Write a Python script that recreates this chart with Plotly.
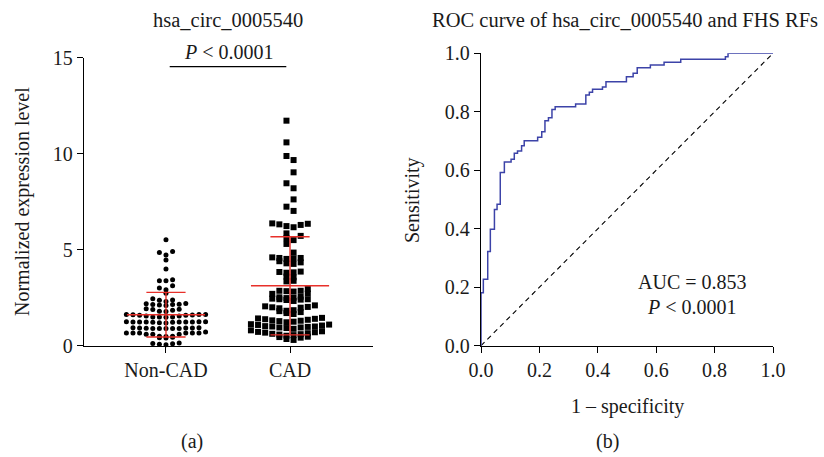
import numpy as np
import plotly.graph_objects as go

# ---------------- data ----------------
categories = ["Non-CAD", "CAD"]

non_cad = [
    5.52,
    4.72, 4.86, 4.90,
    4.46,
    4.00,
    3.38, 3.38, 3.44,
    3.12, 3.00, 2.92,
    2.73,
    2.45, 2.37, 2.38, 2.30,
    2.15, 2.12, 2.18, 2.10, 2.16, 2.14, 2.20,
    1.90, 1.88, 1.92, 1.85, 1.78, 1.80,
    1.58, 1.48, 1.58, 1.62, 1.50, 1.49, 1.62, 1.60, 1.61, 1.50, 1.55, 1.55, 1.62,
    1.23, 1.25, 1.23, 1.22, 1.18, 1.23, 1.25, 1.23, 1.22, 1.23, 1.20, 1.25, 1.23,
    0.92, 0.90, 0.93, 0.89, 0.92, 0.91, 0.90, 0.92, 0.89, 0.93, 0.90,
    0.66, 0.49, 0.48, 0.60, 0.66, 0.66, 0.71, 0.66, 0.66, 0.60, 0.66, 0.49, 0.60,
    0.40, 0.42, 0.44,
    0.05, 0.12, 0.08, 0.14, 0.10,
]

cad = [
    11.72, 10.59, 9.88, 9.67, 9.03, 8.46, 8.20, 7.62, 7.24, 7.02,
    6.32, 6.37, 6.23, 6.17, 6.29, 6.35,
    5.85, 5.72, 5.60, 5.50, 5.30,
    4.85, 4.57, 4.60, 4.55, 4.57, 4.52, 4.40, 4.34, 4.29, 4.26,
    3.84, 3.82, 3.86, 3.80, 3.56, 3.60, 3.35, 3.38,
    2.95, 2.86, 2.84, 2.86, 2.82, 2.70, 2.72,
    2.55, 2.50, 2.52, 2.48, 2.42, 2.45, 2.38, 2.42, 2.33, 2.40,
    2.10, 2.05, 2.00, 2.02, 1.98, 1.95, 1.85, 1.80, 1.82, 1.70, 1.65, 1.75,
    1.45, 1.40, 1.38, 1.42, 1.35, 1.30, 1.25, 1.28, 1.22, 1.32,
    1.10, 1.00, 1.05, 0.95, 1.00, 0.92, 1.08, 1.12, 0.98, 1.02, 0.88, 0.95,
    0.80, 0.70, 0.55, 0.62, 0.60, 0.52, 0.75, 0.65, 0.58, 0.68, 0.72,
    0.30, 0.35, 0.45, 0.47, 0.42,
]

y_ticks_a = [0, 5, 10, 15]

# ROC step vertices (false positive rate, true positive rate)
roc_fpr = [0.0, 0.0, 0.008, 0.023, 0.032, 0.046, 0.055, 0.066, 0.080, 0.103, 0.114,
           0.125, 0.139, 0.148, 0.194, 0.208, 0.219, 0.231, 0.243, 0.254, 0.324,
           0.359, 0.371, 0.382, 0.416, 0.428, 0.498, 0.521, 0.535, 0.580, 0.627,
           0.684, 0.837, 0.846, 1.0]
roc_tpr = [0.0, 0.181, 0.227, 0.322, 0.398, 0.466, 0.484, 0.592, 0.628, 0.638, 0.658,
           0.666, 0.684, 0.701, 0.713, 0.732, 0.769, 0.780, 0.808, 0.817, 0.827,
           0.857, 0.867, 0.877, 0.885, 0.903, 0.920, 0.932, 0.951, 0.960, 0.969,
           0.980, 0.988, 1.0, 1.0]
roc_ticks = [0.0, 0.2, 0.4, 0.6, 0.8, 1.0]

# ---------------- helpers ----------------
W, H = 824, 457
def px(x):
    return x / W
def py(y):
    return 1 - y / H

def swarm_offsets(values, h, step, half_grid):
    vals = np.asarray(values, dtype=float)
    bins = np.floor(vals / h + 0.5).astype(int)
    off = np.zeros(len(vals))
    for b in sorted(set(bins)):
        idx = np.where(bins == b)[0]
        idx = idx[np.argsort(vals[idx], kind="stable")]
        seq = []
        for k in range(len(idx)):
            if half_grid:
                m = k // 2 + 0.5
                first_left = (b % 2 == 0)
                sign = -1 if ((k % 2 == 0) == first_left) else 1
            else:
                m = (k + 1) // 2
                sign = -1 if k % 2 == 1 else 1
            seq.append(sign * m)
        off[idx] = np.array(seq) * step
    return off

FONT = "Liberation Serif"
TXT = "#1a1a1a"
RED = "#e8302a"
FS = 20

fig = go.Figure()

# ---------------- panel (a) ----------------
x_non = 0 + swarm_offsets(non_cad, 0.30, 0.0532, False)
x_cad = 1 + swarm_offsets(cad, 0.33, 0.0573, True)

fig.add_trace(go.Scatter(x=x_non, y=non_cad, mode="markers",
                         marker=dict(symbol="circle", size=5, color="black"),
                         cliponaxis=False, showlegend=False, hoverinfo="y",
                         xaxis="x", yaxis="y"))
fig.add_trace(go.Scatter(x=x_cad, y=cad, mode="markers",
                         marker=dict(symbol="square", size=6, color="black"),
                         cliponaxis=False, showlegend=False, hoverinfo="y",
                         xaxis="x", yaxis="y"))

for ci, vals in enumerate([non_cad, cad]):
    m = float(np.mean(vals))
    s = float(np.std(vals, ddof=1))
    fig.add_trace(go.Scatter(x=[ci - 0.315, ci + 0.315], y=[m, m], mode="lines",
                             line=dict(color=RED, width=1.4), showlegend=False,
                             hoverinfo="skip", xaxis="x", yaxis="y"))
    fig.add_trace(go.Scatter(x=[ci, ci], y=[m - s, m + s], mode="lines",
                             line=dict(color=RED, width=1.4), showlegend=False,
                             hoverinfo="skip", xaxis="x", yaxis="y"))
    for yy in (m - s, m + s):
        fig.add_trace(go.Scatter(x=[ci - 0.158, ci + 0.158], y=[yy, yy], mode="lines",
                                 line=dict(color=RED, width=1.4), showlegend=False,
                                 hoverinfo="skip", xaxis="x", yaxis="y"))

# significance bar
fig.add_shape(type="line", xref="x", yref="y", x0=0.03, x1=0.97, y0=14.53, y1=14.53,
              line=dict(color="black", width=1.3))

# ---------------- panel (b) ----------------
fig.add_trace(go.Scatter(x=[0, 1], y=[0, 1], mode="lines",
                         line=dict(color="black", width=1.1, dash="5px,4px"),
                         showlegend=False, hoverinfo="skip", xaxis="x2", yaxis="y2"))
fig.add_trace(go.Scatter(x=roc_fpr, y=roc_tpr, mode="lines", line_shape="hv",
                         line=dict(color="#3c43a8", width=1.5), cliponaxis=False,
                         showlegend=False, xaxis="x2", yaxis="y2"))

axis_common = dict(showline=True, linecolor="black", linewidth=1.3, ticks="outside",
                   ticklen=6, tickwidth=1.3, tickcolor="black", showgrid=False,
                   zeroline=False, automargin=False,
                   tickfont=dict(family=FONT, size=FS, color=TXT))

fig.update_layout(
    width=W, height=H, autosize=False,
    margin=dict(l=0, r=0, t=0, b=0, pad=0, autoexpand=False),
    paper_bgcolor="white", plot_bgcolor="white",
    font=dict(family=FONT, size=FS, color=TXT),
    xaxis=dict(domain=[px(84), px(373)], range=[-0.661, 1.669], tickvals=[0, 1],
               ticktext=categories, anchor="y", **axis_common),
    yaxis=dict(domain=[py(345.7), py(57.7)], range=[0, 15], tickvals=y_ticks_a,
               anchor="x", **axis_common),
    xaxis2=dict(domain=[px(481), px(773)], range=[0, 1], tickvals=roc_ticks,
                tickformat=".1f", anchor="y2", **axis_common),
    yaxis2=dict(domain=[py(345.7), py(53.3)], range=[0, 1], tickvals=roc_ticks,
                tickformat=".1f", anchor="x2", **axis_common),
)

def ann(text, x, y, angle=0, size=FS):
    fig.add_annotation(text=text, x=px(x), y=py(y), xref="paper", yref="paper",
                       showarrow=False, xanchor="center", yanchor="middle",
                       textangle=angle, font=dict(family=FONT, size=size, color=TXT))

ann("hsa_circ_0005540", 228, 20, size=20.5)
ann("<i>P</i> < 0.0001", 229, 52)
ann("ROC curve of hsa_circ_0005540 and FHS RFs", 625, 20, size=20.5)
ann("Normalized expression level", 22, 202, angle=-90)
ann("Sensitivity", 412, 200, angle=-90)
ann("1 – specificity", 627, 406)
ann("AUC = 0.853", 692, 282)
ann("<i>P</i> < 0.0001", 692, 307)
ann("(a)", 192, 441)
ann("(b)", 607, 441)

fig.write_html("out.html", config={"responsive": False, "displayModeBar": False},
               post_script="document.body.style.margin='0';document.body.style.overflow='hidden';")
